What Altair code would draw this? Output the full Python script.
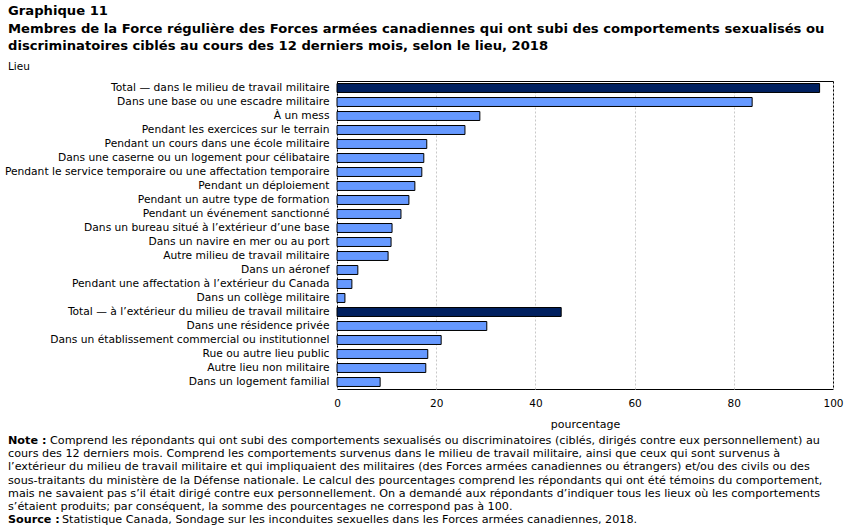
import altair as alt
import pandas as pd

# Places where the behaviours occurred, in display order
lieux = [
    "Total — dans le milieu de travail militaire",
    "Dans une base ou une escadre militaire",
    "À un mess",
    "Pendant les exercices sur le terrain",
    "Pendant un cours dans une école militaire",
    "Dans une caserne ou un logement pour célibataire",
    "Pendant le service temporaire ou une affectation temporaire",
    "Pendant un déploiement ",
    "Pendant un autre type de formation",
    "Pendant un événement sanctionné",
    "Dans un bureau situé à l’extérieur d’une base",
    "Dans un navire en mer ou au port ",
    "Autre milieu de travail militaire",
    "Dans un aéronef",
    "Pendant une affectation à l’extérieur du Canada ",
    "Dans un collège militaire ",
    "Total — à l’extérieur du milieu de travail militaire",
    "Dans une résidence privée ",
    "Dans un établissement commercial ou institutionnel",
    "Rue ou autre lieu public",
    "Autre lieu non militaire",
    "Dans un logement familial",
]

pourcentages = [
    97.3, 83.7, 28.8, 25.8, 18.1, 17.5, 17.1, 15.7, 14.5, 12.9, 11.1,
    10.9, 10.3, 4.2, 3.0, 1.6, 45.2, 30.2, 21.0, 18.3, 17.9, 8.7,
]

types = ["total" if l.startswith("Total") else "detail" for l in lieux]

df = pd.DataFrame({"lieu": lieux, "pct": pourcentages, "type": types})

FONT = "DejaVu Sans"

note_lignes = [
    "cours des 12 derniers mois. Comprend les comportements survenus dans le milieu de travail militaire, ainsi que ceux qui sont survenus à",
    "l’extérieur du milieu de travail militaire et qui impliquaient des militaires (des Forces armées canadiennes ou étrangers) et/ou des civils ou des",
    "sous-traitants du ministère de la Défense nationale. Le calcul des pourcentages comprend les répondants qui ont été témoins du comportement,",
    "mais ne savaient pas s’il était dirigé contre eux personnellement. On a demandé aux répondants d’indiquer tous les lieux où les comportements",
    "s’étaient produits; par conséquent, la somme des pourcentages ne correspond pas à 100.",
]
note_debut = "Comprend les répondants qui ont subi des comportements sexualisés ou discriminatoires (ciblés, dirigés contre eux personnellement) au"
source_texte = "Statistique Canada, Sondage sur les inconduites sexuelles dans les Forces armées canadiennes, 2018."

bars = alt.Chart(df).mark_bar(stroke="black", strokeWidth=1).encode(
    x=alt.X(
        "pct:Q",
        scale=alt.Scale(domain=[0, 100], nice=False),
        axis=alt.Axis(
            values=[0, 20, 40, 60, 80, 100],
            title="pourcentage",
            grid=True,
            gridDash=[2, 2],
            gridColor="#c8c8c8",
            domain=False,
            ticks=False,
            labelFlush=False,
            labelPadding=9,
            titlePadding=10,
            labelFontSize=10.5,
            titleFontSize=11,
            titleFontWeight="normal",
        ),
    ),
    y=alt.Y(
        "lieu:N",
        sort=None,
        scale=alt.Scale(paddingInner=0.36, paddingOuter=0.18),
        axis=alt.Axis(
            title=None,
            domain=False,
            ticks=False,
            labelPadding=8,
            labelFontSize=10.7,
            labelLimit=400,
        ),
    ),
    color=alt.Color(
        "type:N",
        scale=alt.Scale(domain=["total", "detail"], range=["#002060", "#6699FF"]),
        legend=None,
    ),
)

one = pd.DataFrame({"k": [0]})

def texte(t, y, x=-329, bold=False):
    return alt.Chart(one).mark_text(
        text=t,
        align="left",
        baseline="middle",
        font=FONT,
        fontSize=11.2,
        fontWeight="bold" if bold else "normal",
        color="black",
        lineBreak="\n",
        lineHeight=13.2,
    ).encode(x=alt.value(x), y=alt.value(y))

notes = [
    texte("Note :", 360, bold=True),
    texte(note_debut, 360, x=-329 + 42),
    texte("\n".join(note_lignes), 373.2),
    texte("Source :", 439, bold=True),
    texte(source_texte, 439, x=-329 + 54),
]

chart = alt.layer(bars, *notes).properties(
    width=496,
    height=308,
    autosize=alt.AutoSizeParams(type="none"),
    padding={"left": 337, "top": 81, "right": 18, "bottom": 141},
    title=alt.TitleParams(
        text=[
            "Graphique  11",
            "Membres de la Force régulière  des Forces armées canadiennes qui ont subi des comportements sexualisés ou",
            "discriminatoires  ciblés au cours des 12 derniers  mois, selon le lieu,  2018",
        ],
        subtitle="Lieu",
        anchor="start",
        frame="group",
        dx=-329,
        offset=8,
        font=FONT,
        fontSize=13.15,
        fontWeight="bold",
        lineHeight=17.5,
        subtitleFont=FONT,
        subtitleFontSize=10.5,
        subtitlePadding=8,
        color="black",
        subtitleColor="black",
    ),
).configure(font=FONT).configure_view(
    stroke="black", strokeWidth=1
).configure_axis(
    labelColor="black", titleColor="black", labelFont=FONT, titleFont=FONT
)

chart.save("out.html", embed_options={"renderer": "svg", "actions": False})
